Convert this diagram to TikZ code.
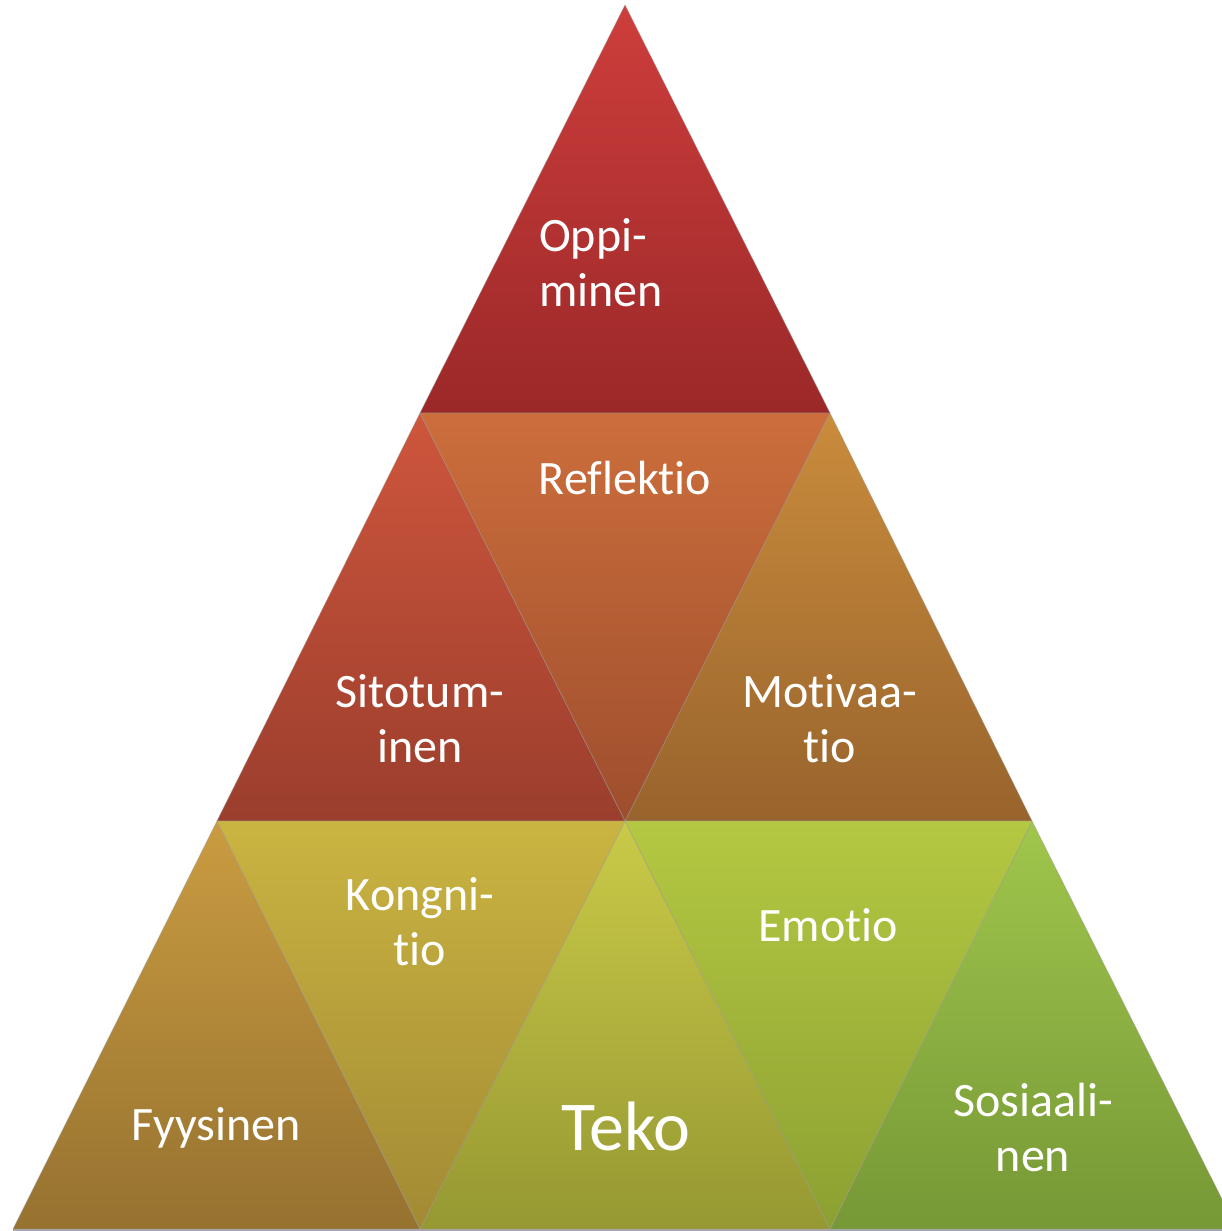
\documentclass[tikz,border=0pt]{standalone}
\usepackage{fontspec}
\setmainfont{Carlito}[Ligatures={NoCommon}]
\usetikzlibrary{positioning}
\definecolor{oppitop}{RGB}{205,62,60}
\definecolor{oppibot}{RGB}{155,40,40}
\definecolor{refltop}{RGB}{204,110,60}
\definecolor{reflbot}{RGB}{158,78,45}
\definecolor{sitotop}{RGB}{206,86,60}
\definecolor{sitobot}{RGB}{155,62,45}
\definecolor{motitop}{RGB}{202,140,60}
\definecolor{motibot}{RGB}{152,100,45}
\definecolor{fyystop}{RGB}{202,156,65}
\definecolor{fyysbot}{RGB}{150,114,48}
\definecolor{kongtop}{RGB}{202,180,65}
\definecolor{kongbot}{RGB}{162,138,52}
\definecolor{tekotop}{RGB}{202,202,72}
\definecolor{tekobot}{RGB}{150,152,50}
\definecolor{emottop}{RGB}{180,200,66}
\definecolor{emotbot}{RGB}{140,160,50}
\definecolor{sositop}{RGB}{160,198,76}
\definecolor{sosibot}{RGB}{118,152,54}

\begin{document}
\begin{tikzpicture}[x=1bp, y=-1bp,
    tri/.style={draw=black!40, draw opacity=0.45, line width=0.8bp, line join=round},
    word/.style={text=white, align=center, inner sep=0pt, font=\fontsize{48bp}{55bp}\selectfont},
    bigword/.style={text=white, inner sep=0pt, font=\fontsize{70bp}{80bp}\selectfont}
]
\useasboundingbox (0,0) rectangle (1222,1231);
\clip (0,0) rectangle (1222,1231);
% corner points of the pyramid rows
\coordinate (apex) at (625,5);
\coordinate (l1) at (420,413);
\coordinate (r1) at (830,413);
\coordinate (l2) at (217,821);
\coordinate (m2) at (625,821);
\coordinate (r2) at (1032,821);
\coordinate (l3) at (13,1229);
\coordinate (a3) at (420,1229);
\coordinate (b3) at (830,1229);
\coordinate (r3) at (1237,1229);
% top row
\shade[tri, top color=oppitop, bottom color=oppibot] (apex) -- (l1) -- (r1) -- cycle;
% middle row
\shade[tri, top color=sitotop, bottom color=sitobot] (l1) -- (l2) -- (m2) -- cycle;
\shade[tri, top color=motitop, bottom color=motibot] (r1) -- (m2) -- (r2) -- cycle;
\shade[tri, top color=refltop, bottom color=reflbot] (l1) -- (r1) -- (m2) -- cycle;
% bottom row
\shade[tri, top color=fyystop, bottom color=fyysbot] (l2) -- (l3) -- (a3) -- cycle;
\shade[tri, top color=tekotop, bottom color=tekobot] (m2) -- (a3) -- (b3) -- cycle;
\shade[tri, top color=sositop, bottom color=sosibot] (r2) -- (b3) -- (r3) -- cycle;
\shade[tri, top color=kongtop, bottom color=kongbot] (l2) -- (m2) -- (a3) -- cycle;
\shade[tri, top color=emottop, bottom color=emotbot] (m2) -- (r2) -- (b3) -- cycle;
\draw[black!35, line width=1.5bp] (l3) ++(0,1) -- (1222,1230);
% labels
\node[word, align=left] (oppiminen) at (601,263) {Oppi-\\minen};
\node[word] (reflektio) at (625,478) {Reflektio};
\node[word] (sitotuminen) at (420,719) {Sitotum-\\inen};
\node[word] (motivaatio) at (830,719) {Motivaa-\\tio};
\node[word] (kongnitio) at (420,922) {Kongni-\\tio};
\node[word] (emotio) at (828,925) {Emotio};
\node[word] (fyysinen) at (216,1128) {Fyysinen};
\node[bigword] (teko) at (626,1126) {Teko};
\node[word] (sosiaalinen) at (1033,1127) {Sosiaali-\\nen};
\end{tikzpicture}
\end{document}
